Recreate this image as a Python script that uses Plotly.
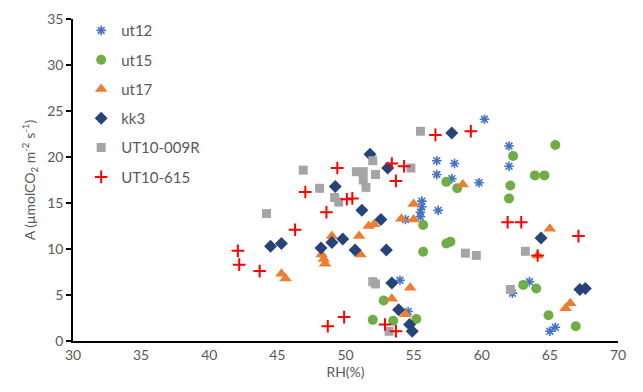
import plotly.graph_objects as go

ut12_x = [60.2, 62.0, 62.0, 56.7, 58.0, 56.7, 57.8, 59.8, 55.6, 55.6, 55.5, 55.5, 56.8, 54.4, 62.25, 63.5, 54.0, 54.6, 65.0, 65.4]
ut12_y = [24.1, 21.2, 19.0, 19.6, 19.3, 18.1, 17.65, 17.2, 15.2, 14.6, 14.0, 13.5, 14.2, 13.2, 5.2, 6.45, 6.6, 3.2, 1.06, 1.5]

ut15_x = [65.4, 62.3, 63.9, 64.6, 62.1, 62.0, 57.4, 58.2, 55.7, 57.4, 57.7, 55.7, 63.05, 64.0, 64.9, 66.9, 52.8, 55.2, 53.5, 52.0]
ut15_y = [21.3, 20.1, 18.0, 18.0, 16.9, 15.5, 17.3, 16.6, 12.6, 10.6, 10.8, 9.7, 6.1, 5.7, 2.8, 1.6, 4.4, 2.4, 2.2, 2.3]

ut17_x = [58.6, 55.0, 54.1, 55.0, 65.0, 64.1, 66.5, 66.15, 54.75, 53.4, 54.4, 51.7, 52.1, 49.0, 48.25, 48.4, 48.5, 51.0, 51.1, 45.3, 45.6]
ut17_y = [17.0, 14.9, 13.3, 13.2, 12.2, 9.3, 4.1, 3.55, 5.8, 4.6, 2.9, 12.5, 12.7, 11.4, 9.4, 8.9, 8.4, 11.4, 9.4, 7.3, 6.8]

kk3_x = [51.8, 53.1, 49.25, 51.2, 52.6, 57.8, 64.35, 67.2, 67.6, 53.0, 53.4, 53.9, 54.7, 54.9, 44.5, 45.3, 49.8, 49.0, 48.2, 50.7]
kk3_y = [20.3, 18.8, 16.8, 14.2, 13.2, 22.6, 11.2, 5.6, 5.7, 9.9, 6.3, 3.4, 1.8, 1.06, 10.3, 10.6, 11.1, 10.7, 10.1, 9.9]

r009_x = [46.9, 52.0, 50.8, 51.3, 52.2, 51.3, 51.5, 48.1, 49.2, 49.5, 44.2, 55.5, 54.8, 58.8, 59.6, 63.2, 62.1, 52.0, 52.2, 53.2]
r009_y = [18.57, 19.6, 18.4, 18.4, 18.1, 17.5, 16.7, 16.6, 15.6, 15.1, 13.85, 22.8, 18.8, 9.55, 9.3, 9.75, 5.6, 6.45, 6.2, 1.06]

u615_x = [49.4, 53.4, 53.7, 47.05, 50.1, 50.5, 48.6, 54.3, 56.6, 59.2, 61.9, 62.9, 67.1, 64.1, 46.3, 42.1, 42.2, 43.7, 49.9, 48.7, 52.9, 53.7]
u615_y = [18.8, 19.3, 17.4, 16.2, 15.4, 15.5, 14.0, 19.0, 22.4, 22.8, 12.9, 12.9, 11.4, 9.3, 12.1, 9.8, 8.3, 7.6, 2.6, 1.6, 1.8, 1.06]

x_ticks = [30, 35, 40, 45, 50, 55, 60, 65, 70]
y_ticks = [0, 5, 10, 15, 20, 25, 30, 35]

series = [
    ("ut12", ut12_x, ut12_y, dict(symbol="asterisk-open", size=8, color="#4472C4", line=dict(color="#4472C4", width=1.6))),
    ("ut15", ut15_x, ut15_y, dict(symbol="circle", size=10, color="#70AD47", line=dict(width=0))),
    ("ut17", ut17_x, ut17_y, dict(symbol="triangle-up", size=11, color="#ED7D31", line=dict(width=0))),
    ("kk3", kk3_x, kk3_y, dict(symbol="diamond", size=10, color="#264478", line=dict(width=0))),
    ("UT10-009R", r009_x, r009_y, dict(symbol="square", size=9, color="#A5A5A5", line=dict(width=0))),
    ("UT10-615", u615_x, u615_y, dict(symbol="cross-thin-open", size=9, color="#FF0000", line=dict(color="#FF0000", width=2))),
]

fig = go.Figure()
for i, (name, xs, ys, mk) in enumerate(series):
    fig.add_trace(go.Scatter(x=xs, y=ys, mode="markers", name=name, marker=mk, legendgroup=f"g{i}"))

font_family = "Lato, 'Liberation Sans', sans-serif"
fig.update_layout(
    width=643, height=392,
    margin=dict(l=73, r=25, t=10, b=51),
    paper_bgcolor="white", plot_bgcolor="white",
    font=dict(family=font_family, size=14, color="#595959"),
    showlegend=True,
    legend=dict(x=0.015, y=1.015, xanchor="left", yanchor="top", bgcolor="rgba(0,0,0,0)",
                font=dict(size=15, color="#595959"), tracegroupgap=6.8, itemwidth=30),
    xaxis=dict(range=[30, 70], tickvals=x_ticks, showgrid=False, zeroline=False,
               showline=True, linecolor="black", linewidth=1.5, ticks="",
               tickfont=dict(size=14, color="#595959"),
               title=dict(text="RH(%)", font=dict(size=14, color="#595959"), standoff=2)),
    yaxis=dict(range=[0, 35], tickvals=y_ticks, showgrid=False, zeroline=False,
               showline=True, linecolor="black", linewidth=1.5, ticks="outside", ticklen=5,
               tickcolor="black", tickwidth=1.5,
               tickfont=dict(size=14, color="#595959"),
               title=dict(text="A (μmolCO<sub>2</sub> m<sup>-2</sup> s<sup>-1</sup>)",
                          font=dict(size=14, color="#595959"), standoff=8)),
)

fig.write_html("out.html")
